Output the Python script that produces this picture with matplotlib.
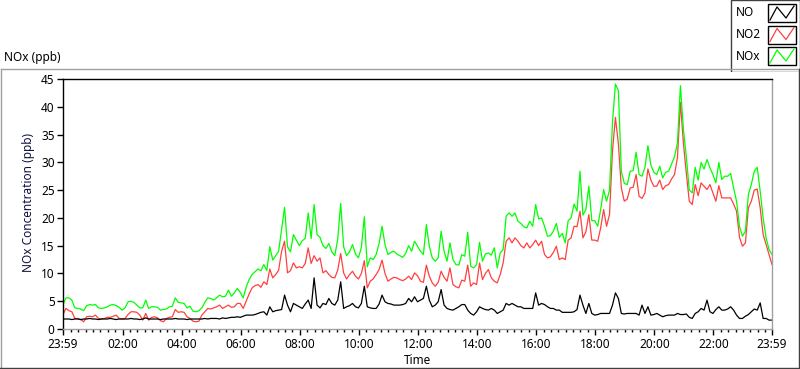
import numpy as np
import matplotlib.pyplot as plt
from matplotlib.lines import Line2D
from matplotlib.patches import Rectangle

# ---------------------------------------------------------------------------
# data: one reading every 6 minutes, minutes counted from 23:59
# ---------------------------------------------------------------------------
step_min = 6
series_names = ["NO", "NO2", "NOx"]
series_colors = ["#000000", "#ff4040", "#00ff00"]

no_ppb = [
    1.8, 1.8, 1.8, 1.7, 1.8, 1.8, 1.7, 1.8, 1.8, 1.9,
    1.8, 1.8, 1.7, 1.8, 1.8, 1.8, 1.9, 1.8, 1.7, 1.8,
    1.8, 1.8, 1.8, 1.9, 1.8, 1.8, 1.7, 1.8, 2.0, 1.8,
    1.8, 1.8, 1.8, 1.7, 1.8, 1.8, 1.8, 1.8, 1.9, 1.8,
    1.8, 1.8, 1.7, 1.8, 1.8, 1.8, 1.8, 1.8, 1.9, 1.8,
    1.9, 1.9, 1.9, 1.8, 2.0, 1.9, 2.0, 2.1, 2.1, 2.2,
    2.1, 2.3, 2.5, 2.5, 2.5, 2.6, 2.8, 3.0, 3.1, 2.5,
    4.0, 3.1, 3.3, 3.4, 3.5, 6.1, 4.3, 3.1, 4.6, 4.3,
    4.0, 3.7, 4.5, 5.2, 3.7, 9.2, 4.3, 3.8, 4.6, 4.4,
    5.5, 4.6, 4.3, 5.2, 8.5, 3.7, 4.0, 4.2, 4.6, 4.0,
    3.8, 4.6, 7.7, 4.0, 3.8, 3.7, 3.7, 4.5, 6.1, 4.9,
    4.6, 4.5, 4.3, 4.3, 4.3, 4.4, 4.6, 5.5, 4.9, 5.8,
    4.9, 5.2, 5.5, 7.7, 5.2, 4.0, 4.3, 4.9, 7.1, 4.3,
    3.7, 3.5, 3.4, 3.7, 4.0, 4.4, 4.4, 3.4, 2.8, 2.5,
    3.1, 4.0, 3.7, 3.5, 3.4, 3.7, 3.4, 2.8, 3.1, 3.4,
    4.6, 4.3, 4.6, 4.3, 4.0, 4.0, 3.7, 3.7, 3.7, 3.7,
    6.5, 4.3, 4.6, 4.4, 4.0, 3.7, 3.7, 3.4, 3.4, 3.0,
    3.0, 3.0, 3.0, 3.1, 3.5, 6.1, 4.3, 2.8, 4.6, 2.8,
    2.5, 2.6, 2.8, 2.8, 2.8, 2.8, 4.3, 6.5, 5.5, 2.8,
    2.7, 2.8, 2.8, 2.8, 2.8, 2.5, 4.3, 2.8, 4.0, 2.5,
    2.6, 2.8, 2.5, 2.2, 2.4, 2.5, 2.5, 2.5, 2.8, 2.6,
    2.6, 2.7, 2.1, 1.9, 2.8, 3.1, 3.7, 3.4, 5.2, 3.1,
    2.8, 3.5, 4.0, 3.4, 3.4, 3.6, 4.0, 3.4, 2.5, 1.9,
    1.9, 2.3, 2.6, 3.1, 3.6, 3.4, 4.7, 1.9, 1.9, 1.6, 1.6,
]

no2_ppb = [
    2.6, 3.7, 3.3, 3.1, 1.9, 1.9, 1.7, 1.3, 2.2, 2.3,
    2.2, 2.5, 1.9, 1.8, 1.9, 2.1, 2.1, 2.3, 2.5, 1.9,
    1.8, 1.9, 2.6, 3.1, 3.1, 3.0, 2.5, 1.6, 2.8, 1.6,
    2.1, 2.2, 2.0, 1.5, 1.3, 1.9, 2.1, 2.2, 3.5, 3.0,
    3.1, 3.0, 2.2, 1.9, 1.4, 1.3, 1.4, 2.5, 3.1, 3.7,
    3.6, 3.8, 4.0, 4.3, 3.7, 4.0, 4.3, 3.9, 4.0, 4.6,
    4.6, 3.7, 5.0, 6.3, 7.4, 7.8, 8.0, 7.5, 8.5, 8.0,
    10.8, 9.2, 9.8, 10.6, 14.0, 15.8, 10.1, 10.5, 11.9, 11.0,
    11.2, 11.0, 11.8, 14.6, 11.8, 13.2, 12.2, 12.8, 10.1, 10.5,
    9.8, 9.3, 9.2, 10.6, 13.6, 10.1, 9.0, 9.8, 10.4, 9.5,
    9.0, 10.0, 12.3, 7.4, 8.6, 9.0, 9.8, 10.7, 12.4, 10.0,
    8.6, 9.0, 9.3, 9.2, 8.9, 8.7, 9.0, 9.5, 8.9, 10.1,
    9.6, 8.6, 8.4, 11.5, 9.5, 8.3, 7.7, 8.4, 10.4, 9.3,
    8.6, 11.0, 8.0, 7.6, 7.4, 8.8, 8.6, 11.5, 7.7, 8.3,
    8.0, 11.9, 8.9, 10.0, 10.7, 9.2, 8.6, 8.3, 9.8, 11.9,
    15.8, 16.4, 15.5, 16.4, 15.8, 15.0, 14.6, 15.5, 14.6, 15.2,
    16.0, 15.0, 15.8, 13.4, 12.8, 13.0, 13.8, 14.9, 12.5, 12.8,
    12.5, 16.0, 16.4, 18.5, 18.4, 21.2, 16.4, 17.5, 20.6, 16.0,
    16.0, 15.8, 18.2, 21.5, 18.5, 20.6, 32.0, 38.1, 33.3, 25.4,
    23.0, 23.4, 25.4, 25.5, 27.8, 23.9, 23.5, 24.5, 28.8, 26.8,
    25.7, 25.7, 26.8, 25.1, 25.8, 26.0, 27.0, 27.8, 30.9, 40.8,
    33.5, 28.0, 23.0, 22.4, 26.0, 24.0, 26.3, 25.7, 25.1, 26.0,
    24.5, 23.0, 25.8, 23.6, 23.6, 23.6, 23.6, 22.5, 21.2, 16.5,
    14.9, 15.5, 21.8, 23.0, 25.0, 25.2, 21.8, 17.0, 15.2, 13.4, 11.6,
]

nox_ppb = [
    4.4, 5.6, 5.6, 5.2, 3.8, 3.7, 3.6, 3.3, 4.2, 4.4,
    4.3, 4.4, 3.8, 3.7, 3.8, 4.0, 4.3, 4.4, 4.2, 3.9,
    3.4, 3.8, 4.9, 5.0, 4.8, 4.3, 3.8, 3.8, 5.2, 3.7,
    4.0, 4.0, 3.9, 3.4, 3.5, 3.6, 4.0, 4.1, 5.6, 4.8,
    4.7, 4.6, 3.8, 4.1, 3.2, 3.1, 3.3, 3.8, 4.8, 5.6,
    5.5, 5.2, 5.6, 6.1, 5.8, 5.9, 7.0, 5.9, 6.5, 7.3,
    6.6, 5.6, 7.5, 8.9, 9.8, 10.3, 10.8, 10.5, 11.6, 10.5,
    14.8, 12.4, 13.2, 14.0, 17.9, 21.9, 14.8, 13.9, 17.0, 16.0,
    15.0, 15.9, 16.3, 20.9, 16.3, 22.4, 17.0, 16.5, 15.0, 14.5,
    15.4, 13.9, 13.2, 16.2, 22.6, 14.8, 13.2, 13.9, 15.2, 13.5,
    12.8, 14.7, 20.2, 11.2, 12.8, 12.5, 13.4, 15.4, 18.5, 15.2,
    13.4, 13.8, 14.0, 13.5, 13.2, 12.9, 13.6, 15.0, 14.0, 15.8,
    14.9, 14.0, 13.4, 18.8, 14.9, 12.8, 12.2, 12.8, 17.6, 14.0,
    12.2, 15.5, 12.5, 11.6, 11.5, 13.4, 13.1, 17.4, 11.3, 11.0,
    11.6, 15.6, 12.2, 13.5, 13.7, 13.3, 14.6, 11.0, 13.7, 14.3,
    20.3, 20.9, 20.3, 20.9, 19.4, 19.0, 18.4, 18.2, 19.4, 18.5,
    22.4, 19.8, 20.0, 18.5, 16.7, 16.8, 17.6, 19.0, 16.5, 17.2,
    15.5, 19.5, 20.0, 22.5, 21.2, 28.4, 20.5, 21.5, 25.7, 19.5,
    19.5, 18.5, 21.5, 25.1, 23.0, 25.0, 37.2, 44.1, 42.9, 28.4,
    26.2, 26.0, 28.4, 28.5, 31.8, 27.8, 27.5, 29.1, 33.0, 29.5,
    28.2, 27.8, 29.3, 27.2, 28.2, 28.4, 29.7, 31.0, 33.5, 43.8,
    36.0, 31.0, 25.0, 24.5, 29.1, 26.8, 30.0, 28.8, 30.5, 29.0,
    27.8, 26.3, 30.0, 26.9, 27.5, 27.5, 28.0, 25.4, 23.0, 18.5,
    16.7, 17.6, 24.2, 26.0, 28.4, 29.1, 24.8, 20.0, 16.4, 14.3, 13.4,
]

tick_labels = ["23:59", "02:00", "04:00", "06:00", "08:00", "10:00", "12:00",
               "14:00", "16:00", "18:00", "20:00", "22:00", "23:59"]
tick_minutes = [0, 121, 241, 361, 481, 601, 721, 841, 961, 1081, 1201, 1321, 1440]
y_ticks = [0, 5, 10, 15, 20, 25, 30, 35, 40, 45]

# ---------------------------------------------------------------------------
# figure
# ---------------------------------------------------------------------------
W, H = 800, 369
plt.rcParams['font.family'] = ['Noto Sans', 'DejaVu Sans']
fig = plt.figure(figsize=(W / 100, H / 100), dpi=100)
fs = 8.5


def fx(px):
    return px / W


def fy(py):
    return 1 - py / H


# outer panel frame
fig.add_artist(Line2D([fx(0.5), fx(799)], [fy(69), fy(69)], color="#a0a0a0", lw=1))
fig.add_artist(Line2D([fx(0.5), fx(0.5)], [fy(69), fy(368)], color="#a0a0a0", lw=1))
fig.add_artist(Line2D([fx(0), fx(799)], [fy(368), fy(368)], color="#404040", lw=1))
fig.add_artist(Line2D([fx(799), fx(799)], [fy(69), fy(368)], color="#404040", lw=1))

fig.text(fx(4), fy(58), "NOx (ppb)", fontsize=fs, va="center", ha="left")

ax = fig.add_axes([fx(63), fy(329), fx(772 - 63), (329 - 79) / H])
t = np.arange(len(no_ppb)) * step_min
for vals, name, col in zip([no2_ppb, nox_ppb, no_ppb], series_names[1:] + series_names[:1],
                           series_colors[1:] + series_colors[:1]):
    ax.plot(t, vals, color=col, lw=0.9, label=name)

ax.set_xlim(0, 1440)
ax.set_ylim(0, 45)
ax.set_yticks(y_ticks)
ax.set_xticks(tick_minutes)
ax.set_xticklabels(tick_labels)
minor = [m for m in range(16, 1440, 15) if (m - 1) % 120 != 0]
ax.set_xticks(minor, minor=True)
ax.tick_params(axis="both", which="major", labelsize=fs, length=4.5, width=1,
               direction="out", pad=1.5)
ax.tick_params(axis="x", which="minor", length=2.5, width=1)
ax.tick_params(axis="x", which="major", pad=2)
ax.spines["left"].set_color("black")
ax.spines["top"].set_color("black")
ax.spines["right"].set_color("#a0a0a0")
ax.spines["bottom"].set_color("#a0a0a0")
for s in ax.spines.values():
    s.set_linewidth(1)

fig.text(fx(29), fy(203), "NOx Concentration (ppb)", rotation=90, fontsize=fs,
         va="center", ha="center", color="#101040")
fig.text(fx(417), fy(361), "Time", fontsize=fs, va="center", ha="center")

# legend panel, drawn in pixel coordinates
lg = fig.add_axes([fx(730), fy(72), fx(70), 72 / H])
lg.set_xlim(0, 70)
lg.set_ylim(72, 0)
lg.axis("off")
lg.add_patch(Rectangle((0.5, 0), 69, 71.5, facecolor="white", edgecolor="#404040", lw=1))
for k, (name, col) in enumerate(zip(series_names, series_colors)):
    y0 = 4 + k * 21.5
    lg.text(6, y0 + 9, name, fontsize=fs, va="center", ha="left")
    lg.add_patch(Rectangle((38, y0), 28, 18, facecolor="white", edgecolor="black", lw=1))
    lg.plot([40, 47, 56, 64], [y0 + 16, y0 + 3, y0 + 14, y0 + 2], color=col, lw=0.9)

fig.savefig("out.png", dpi=100)
